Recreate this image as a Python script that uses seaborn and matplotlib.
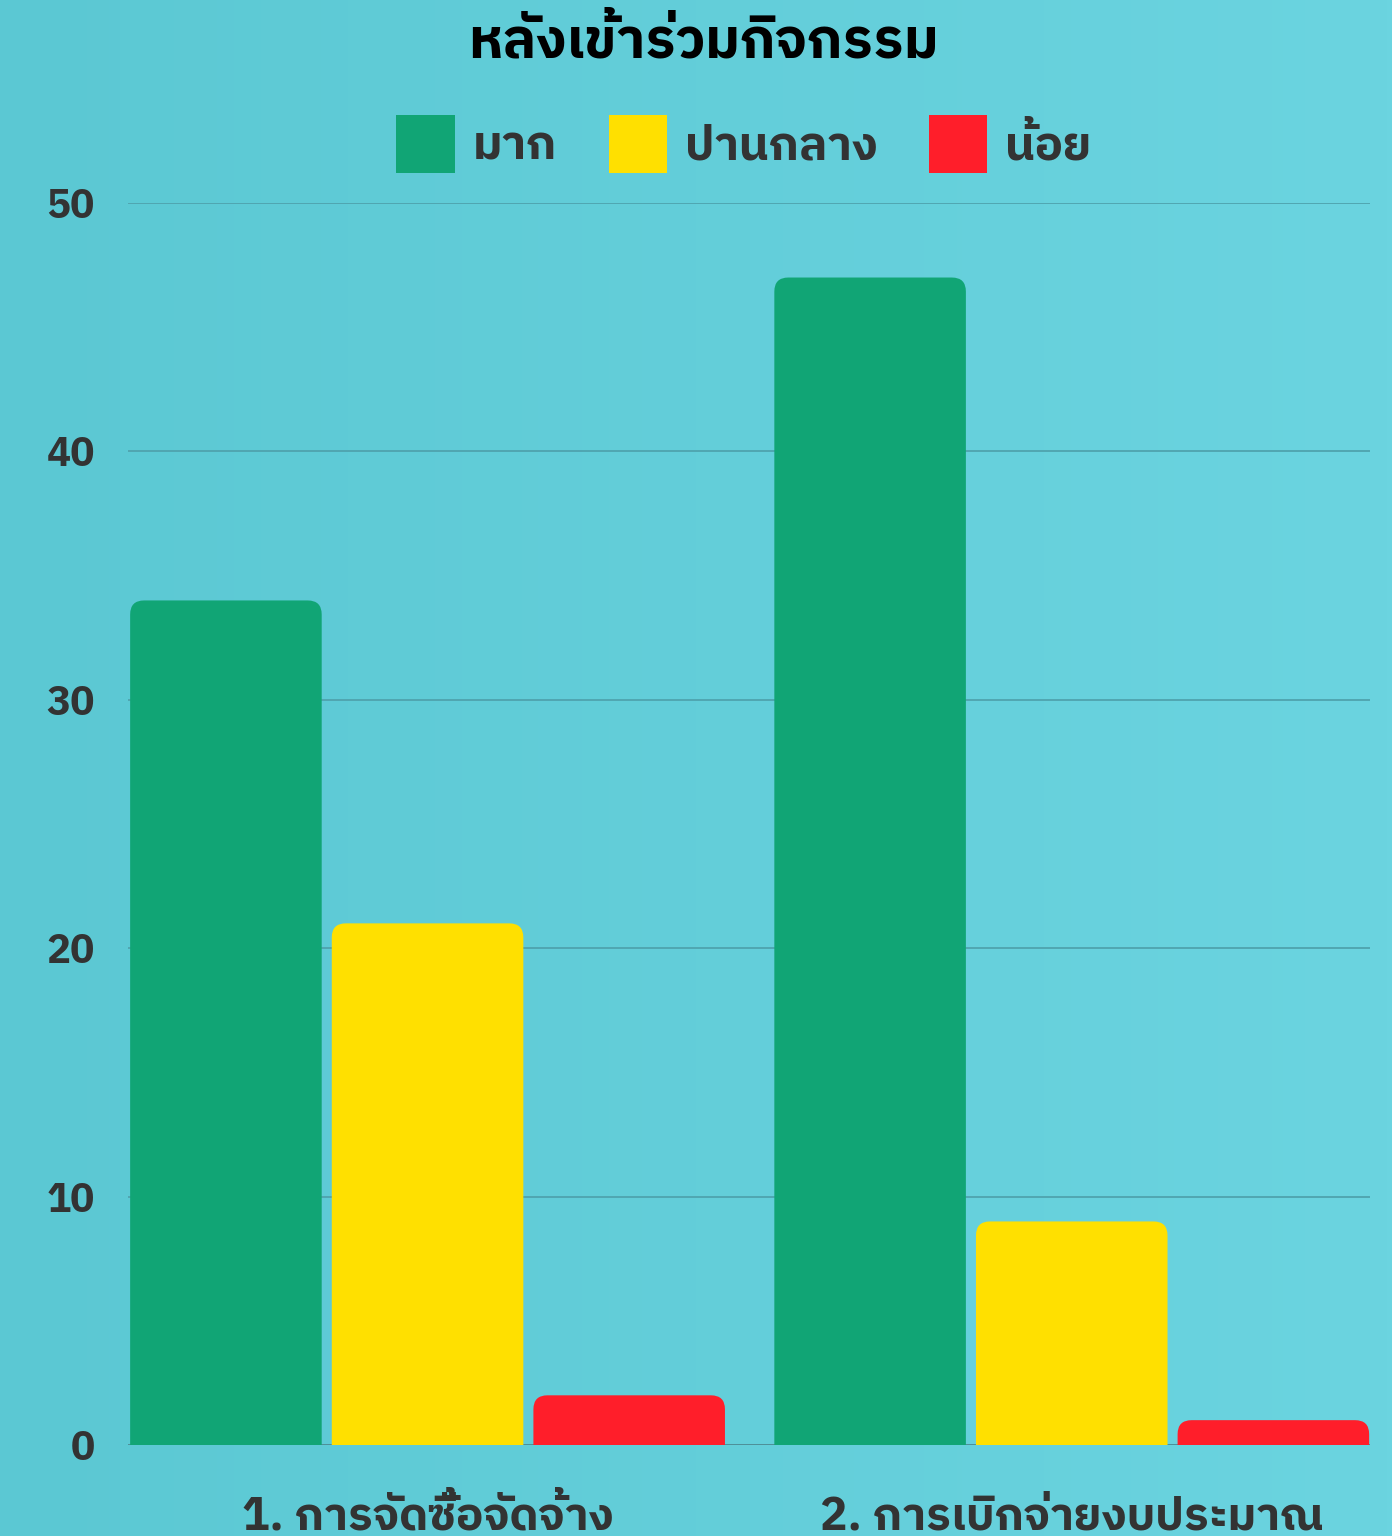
import numpy as np
import pandas as pd
import matplotlib
matplotlib.use("Agg")
import matplotlib.pyplot as plt
import seaborn as sns
from matplotlib import font_manager as fm
from matplotlib.ft2font import FT2Font
from matplotlib.patches import FancyBboxPatch

# ---- data ----
categories = ["1. การจัดซื้อจัดจ้าง", "2. การเบิกจ่ายงบประมาณ"]
levels = ["มาก", "ปานกลาง", "น้อย"]
values_mak = [34, 47]
values_panklang = [21, 9]
values_noi = [2, 1]
level_colors = ["#11A575", "#FFE000", "#FF1E2A"]
title_text = "หลังเข้าร่วมกิจกรรม"
y_ticks = [0, 10, 20, 30, 40, 50]


def find_thai_family():
    found = {}
    for f in fm.fontManager.ttflist:
        try:
            ft = FT2Font(f.fname)
            if ft.get_char_index(ord("ก")) and ft.get_char_index(ord("0")):
                found.setdefault(f.name, []).append(f.weight)
        except Exception:
            pass
    if not found:
        return None
    pref = [n for n in found if "Thai" in n]
    names = pref or sorted(found)
    return names[0]


thai = find_thai_family()
family = [thai, "DejaVu Sans"] if thai else ["DejaVu Sans"]
plt.rcParams["font.family"] = family

df = pd.DataFrame({
    "cat": categories * 3,
    "level": [levels[0]] * 2 + [levels[1]] * 2 + [levels[2]] * 2,
    "val": values_mak + values_panklang + values_noi,
})

W, H, DPI = 13.92, 15.36, 100
fig = plt.figure(figsize=(W, H), dpi=DPI)

# soft horizontal background gradient
bg = fig.add_axes([0, 0, 1, 1], zorder=-10)
c0 = np.array([0x5B, 0xC8, 0xD3]) / 255
c1 = np.array([0x6B, 0xD4, 0xE0]) / 255
t = np.linspace(0, 1, 256)[None, :, None]
grad = c0 + (c1 - c0) * t
bg.imshow(grad, aspect="auto", extent=[0, 1, 0, 1])
bg.axis("off")

left, right = 128 / 1392, 1370 / 1392
bottom, top = (1536 - 1445) / 1536, (1536 - 203) / 1536
ax = fig.add_axes([left, bottom, right - left, top - bottom])
ax.set_facecolor("none")

sns.barplot(data=df, x="cat", y="val", hue="level", hue_order=levels,
            order=categories, palette=level_colors, saturation=1,
            width=0.939, gap=0.05, ax=ax)

ax.set_xlim(-0.465, 1.463)
ax.set_ylim(0, 50)
ax.set_yticks(y_ticks)
ax.set_xlabel("")
ax.set_ylabel("")
for s in ax.spines.values():
    s.set_visible(False)
ax.yaxis.grid(True, color="#4FA3AE", linewidth=1.3)
ax.xaxis.grid(False)
ax.set_axisbelow(True)
ax.axhline(0, color="#4E8E96", lw=2, zorder=1)
ax.tick_params(axis="both", length=0)
ax.tick_params(axis="y", pad=24, labelsize=29, labelcolor="#333333")
ax.tick_params(axis="x", pad=36, labelsize=33, labelcolor="#333333")
for lab in ax.get_yticklabels() + ax.get_xticklabels():
    lab.set_fontweight("bold")

# rounded tops on bars
fig.canvas.draw()
p0 = ax.transData.transform((0, 0))
p1 = ax.transData.transform((1, 1))
sx, sy = p1[0] - p0[0], p1[1] - p0[1]
r_px = 14
rx, ry = r_px / sx, r_px / sy
for p in list(ax.patches):
    if not isinstance(p, matplotlib.patches.Rectangle) or p.get_height() <= 0:
        continue
    x, w, h, fc = p.get_x(), p.get_width(), p.get_height(), p.get_facecolor()
    p.remove()
    ax.add_patch(FancyBboxPatch((x, -ry), w, h + ry,
                                boxstyle=f"round,pad=0,rounding_size={rx}",
                                mutation_aspect=sx / sy, fc=fc, ec="none",
                                zorder=2))

sns.move_legend(ax, "center", bbox_to_anchor=(0.496, 1 + 59 / 1242), ncol=3,
                frameon=False, title=None, fontsize=34, handlelength=1.23,
                handleheight=1.51, handletextpad=0.38, columnspacing=1.1)
for txt in ax.get_legend().get_texts():
    txt.set_color("#333333")
    txt.set_fontweight("bold")

fig.text(0.505, 1 - 42 / 1536, title_text, ha="center", va="center",
         fontsize=40, fontweight="bold", color="black")

fig.savefig("out.png", dpi=DPI)
